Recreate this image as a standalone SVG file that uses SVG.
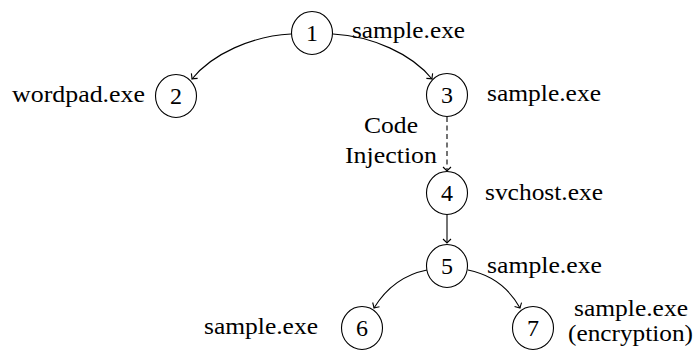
<svg xmlns="http://www.w3.org/2000/svg" width="697" height="351" viewBox="0 0 697 351">
<style>
.node ellipse{fill:#fff;stroke:#000;stroke-width:1.1}
.num{font-family:'Liberation Serif','Times New Roman',Times,serif;font-size:24px;text-anchor:middle;fill:#000}
.lbl{font-family:'Liberation Serif','Times New Roman',Times,serif;font-size:22.5px;fill:#000}
.edge{fill:none;stroke:#000;stroke-width:1.1;marker-end:url(#tip)}
.dash{stroke-dasharray:5 3.5}
</style>
<defs>
<marker id="tip" markerUnits="userSpaceOnUse" markerWidth="12" markerHeight="12" refX="0" refY="0" viewBox="-6 -6 12 12" orient="auto" overflow="visible">
<path d="M-4,-4 Q-1,-0.8 0,0 Q-1,0.8 -4,4" fill="none" stroke="#000" stroke-width="1.1"/>
</marker>
</defs>
<g id="connectors">
<path class="edge" d="M291,34 C252,36 212,54 192,79"/>
<path class="edge" d="M333,34 C372,36 412,54 432,79"/>
<path class="edge dash" d="M447,117 L447,171"/>
<path class="edge" d="M447,214 L447,243"/>
<path class="edge" d="M427,270 C402,275 385,290 374,308"/>
<path class="edge" d="M468,270 C493,275 510,290 520,308"/>
</g>
<g id="node1" class="node"><ellipse cx="312" cy="33" rx="20.5" ry="21.5"/><text class="num" x="312" y="41" font-family="Liberation Serif, serif">1</text></g>
<g id="node2" class="node"><ellipse cx="176" cy="96" rx="20.5" ry="21.5"/><text class="num" x="176" y="104">2</text></g>
<g id="node3" class="node"><ellipse cx="447" cy="95" rx="20.5" ry="21.5"/><text class="num" x="447" y="103">3</text></g>
<g id="node4" class="node"><ellipse cx="447" cy="193" rx="20.5" ry="21.5"/><text class="num" x="447" y="201">4</text></g>
<g id="node5" class="node"><ellipse cx="447" cy="266" rx="20.5" ry="21.5"/><text class="num" x="447" y="274">5</text></g>
<g id="node6" class="node"><ellipse cx="362" cy="328" rx="20.5" ry="21.5"/><text class="num" x="362" y="336">6</text></g>
<g id="node7" class="node"><ellipse cx="533" cy="328" rx="20.5" ry="21.5"/><text class="num" x="533" y="336">7</text></g>
<g id="labels">
<text class="lbl" x="352" y="38" textLength="113" lengthAdjust="spacingAndGlyphs">sample.exe</text>
<text class="lbl" x="12" y="102" textLength="133" lengthAdjust="spacingAndGlyphs">wordpad.exe</text>
<text class="lbl" x="487" y="101" textLength="114" lengthAdjust="spacingAndGlyphs">sample.exe</text>
<text class="lbl" x="364" y="133" textLength="54" lengthAdjust="spacingAndGlyphs">Code</text>
<text class="lbl" x="345" y="163" textLength="92" lengthAdjust="spacingAndGlyphs">Injection</text>
<text class="lbl" x="485" y="200" textLength="118" lengthAdjust="spacingAndGlyphs">svchost.exe</text>
<text class="lbl" x="487" y="273" textLength="115" lengthAdjust="spacingAndGlyphs">sample.exe</text>
<text class="lbl" x="204" y="334" textLength="114" lengthAdjust="spacingAndGlyphs">sample.exe</text>
<text class="lbl" x="574" y="316" textLength="114" lengthAdjust="spacingAndGlyphs">sample.exe</text>
<text class="lbl" x="568" y="341" textLength="125" lengthAdjust="spacingAndGlyphs">(encryption)</text>
</g>
</svg>
